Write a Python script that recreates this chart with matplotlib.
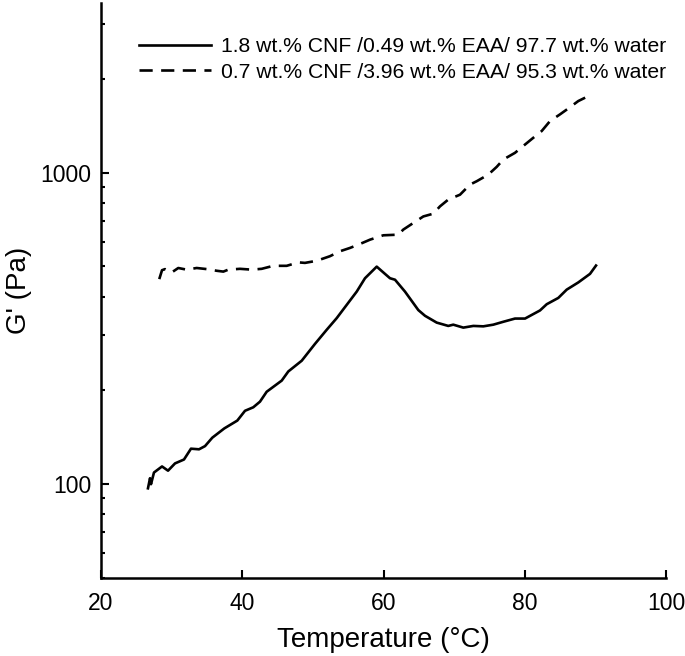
import matplotlib
matplotlib.use("Agg")
import matplotlib.pyplot as plt
from matplotlib.ticker import LogLocator, NullFormatter, FixedLocator

plt.rcParams['font.family'] = ['Liberation Sans', 'DejaVu Sans']

# Data
temp_a = [26.65, 26.94, 27.08, 27.50, 28.64, 29.49, 30.48, 31.75, 32.74, 33.88, 34.73,
          35.76, 37.46, 39.30, 40.39, 41.56, 42.51, 43.46, 45.59, 46.52, 48.42, 50.30,
          51.96, 53.37, 56.21, 57.38, 59.04, 60.21, 60.92, 61.63, 63.04, 64.93, 65.88,
          67.53, 69.17, 69.88, 71.30, 72.72, 74.13, 75.55, 76.96, 78.62, 80.04, 82.16,
          83.11, 84.75, 85.94, 87.58, 89.24, 90.09]
gp_a = [97, 104.5, 100, 109, 114, 110.5, 116.6, 120, 130, 129.4, 132.5,
        141, 151, 160, 172, 176.5, 184, 198, 215, 230, 249, 282,
        313, 341, 415, 458, 499, 473, 458, 453, 415, 362, 347,
        330, 322, 325, 318, 322, 321, 325, 332, 340, 340, 361,
        378, 396, 421, 444, 473, 503]

temp_b = [28.25, 28.64, 29.06, 30.01, 30.94, 32.13, 33.55, 34.97, 36.38, 37.32, 38.02,
          39.68, 41.34, 42.75, 44.40, 46.29, 47.94, 48.88, 50.54, 52.42, 53.84, 55.26,
          56.67, 58.09, 59.97, 62.10, 62.80, 64.22, 65.64, 67.05, 68.00, 69.17, 70.83,
          72.25, 73.20, 74.84, 76.03, 76.96, 78.62, 80.04, 81.21, 82.40, 83.58, 84.99,
          86.17, 87.58, 89.00]
gp_b = [455, 486, 490, 478, 494, 488, 494, 490, 484, 481, 488,
        491, 488, 491, 502, 502, 515, 513, 521, 539, 559, 573,
        590, 609, 629, 632, 656, 689, 723, 738, 779, 819, 849,
        915, 938, 985, 1043, 1101, 1157, 1230, 1293, 1359, 1463, 1537,
        1606, 1696, 1759]

labels = ["1.8 wt.% CNF /0.49 wt.% EAA/ 97.7 wt.% water",
          "0.7 wt.% CNF /3.96 wt.% EAA/ 95.3 wt.% water"]
xticks = [20, 40, 60, 80, 100]
yticks = [100, 1000]

fig = plt.figure(figsize=(6.85, 6.56), dpi=100)
ax = fig.add_axes([101/685, (656-578)/656, (666-101)/685, (578-3)/656])

ax.plot(temp_a, gp_a, color='black', lw=1.9, label=labels[0])
ax.plot(temp_b, gp_b, color='black', lw=1.9, dashes=(5.0, 3.2), label=labels[1])

ax.set_yscale('log')
ax.set_xlim(20, 100)
ax.set_ylim(50, 3500)
ax.xaxis.set_major_locator(FixedLocator(xticks))
ax.yaxis.set_major_locator(FixedLocator(yticks))
ax.yaxis.set_major_formatter(matplotlib.ticker.FuncFormatter(lambda v, p: f"{int(v)}"))
ax.yaxis.set_minor_locator(LogLocator(base=10, subs=range(2, 10)))
ax.yaxis.set_minor_formatter(NullFormatter())

for s in ['top', 'right']:
    ax.spines[s].set_visible(False)
for s in ['left', 'bottom']:
    ax.spines[s].set_linewidth(1.8)

ax.tick_params(which='major', direction='in', length=5.5, width=1.5, labelsize=16.5, pad=7)
ax.tick_params(which='minor', direction='in', length=3, width=1.5)
ax.tick_params(axis='x', pad=10)

ax.set_xlabel('Temperature (°C)', fontsize=20, labelpad=9)
ax.set_ylabel("G' (Pa)", fontsize=20, labelpad=6)

leg = ax.legend(loc='upper right', frameon=False, fontsize=15.2, handlelength=3.4,
                handletextpad=0.45, borderpad=0, borderaxespad=0, labelspacing=0.3,
                bbox_to_anchor=(1.0, 0.94))

fig.savefig('out.png', dpi=100)
